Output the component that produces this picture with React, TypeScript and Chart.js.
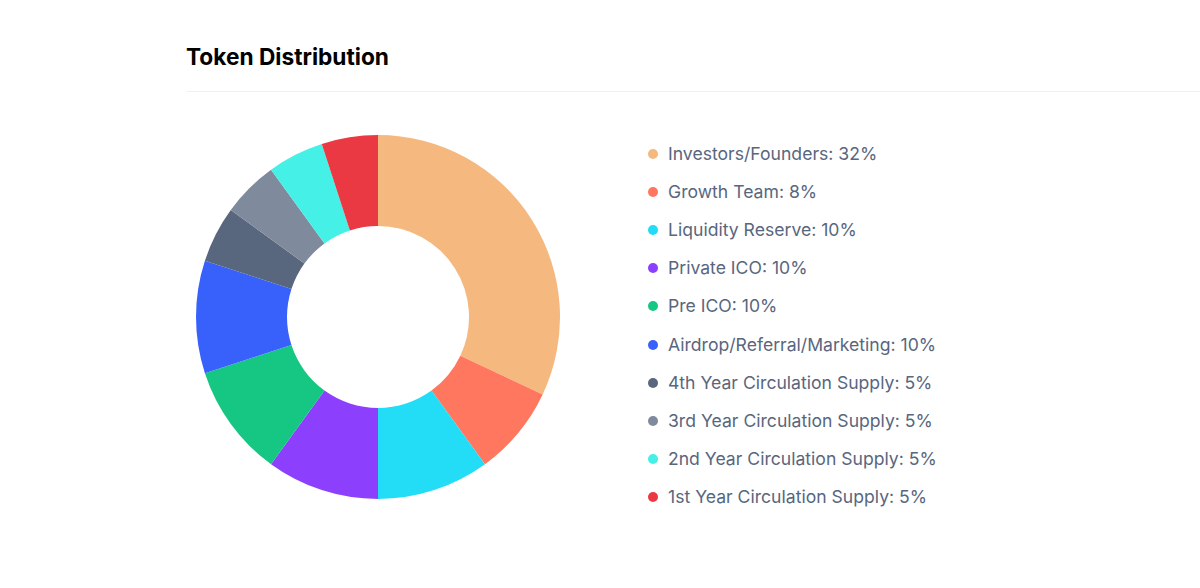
import React, { useEffect, useRef } from "react";
import { Chart, registerables } from "chart.js";

Chart.register(...registerables);

const categories = [
  "Investors/Founders",
  "Growth Team",
  "Liquidity Reserve",
  "Private ICO",
  "Pre ICO",
  "Airdrop/Referral/Marketing",
  "4th Year Circulation Supply",
  "3rd Year Circulation Supply",
  "2nd Year Circulation Supply",
  "1st Year Circulation Supply",
];
const shares = [32, 8, 10, 10, 10, 10, 5, 5, 5, 5];
const colors = [
  "#F5B97F",
  "#FF775F",
  "#23DCF5",
  "#8C3FFC",
  "#16C784",
  "#3861FB",
  "#58667E",
  "#808A9D",
  "#45F0E6",
  "#EA3943",
];
const title = "Token Distribution";

export default function App() {
  const ref = useRef<HTMLCanvasElement | null>(null);
  useEffect(() => {
    if (!ref.current) return;
    const chart = new Chart(ref.current, {
      type: "doughnut",
      data: {
        labels: categories,
        datasets: [
          {
            data: shares,
            backgroundColor: colors,
            borderWidth: 0,
            hoverOffset: 0,
          },
        ],
      },
      options: {
        animation: false,
        responsive: false,
        maintainAspectRatio: false,
        cutout: "50%",
        layout: { padding: 0 },
        plugins: {
          legend: { display: false },
          tooltip: { enabled: false },
        },
      },
    });
    return () => chart.destroy();
  }, []);

  return (
    <div
      style={{
        position: "fixed",
        left: 0,
        top: 0,
        width: 1200,
        height: 588,
        background: "#fff",
        fontFamily: "Inter, 'Noto Sans', sans-serif",
        overflow: "hidden",
      }}
    >
      <div
        style={{
          position: "absolute",
          left: 186,
          top: 42,
          fontSize: 22.7,
          fontWeight: 700,
          color: "#000",
          lineHeight: "30px",
          whiteSpace: "nowrap",
        }}
      >
        {title}
      </div>
      <div
        style={{
          position: "absolute",
          left: 186,
          top: 91,
          width: 1014,
          height: 1,
          background: "#EFF2F5",
        }}
      />
      <canvas
        ref={ref}
        width={364}
        height={364}
        style={{ position: "absolute", left: 196, top: 135, width: 364, height: 364 }}
      />
      <div style={{ position: "absolute", left: 648, top: 135 }}>
        {categories.map((c, i) => (
          <div
            key={c}
            style={{
              position: "absolute",
              left: 0,
              top: i * 38.1,
              height: 38,
              display: "flex",
              alignItems: "center",
              whiteSpace: "nowrap",
            }}
          >
            <span
              style={{
                display: "inline-block",
                width: 10,
                height: 10,
                borderRadius: "50%",
                background: colors[i],
                marginRight: 10,
              }}
            />
            <span style={{ fontSize: 17.6, color: "#58667E", lineHeight: "38px" }}>
              {c}: {shares[i]}%
            </span>
          </div>
        ))}
      </div>
    </div>
  );
}
